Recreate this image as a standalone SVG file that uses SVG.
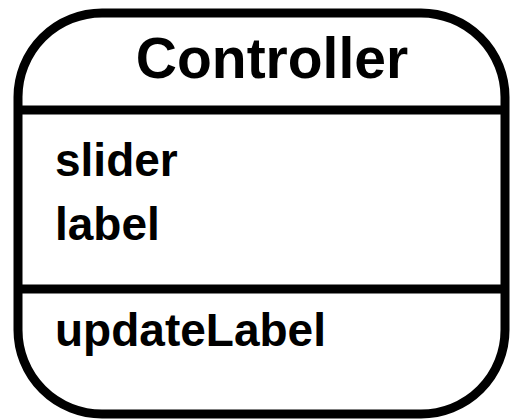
<svg xmlns="http://www.w3.org/2000/svg" width="513" height="419" viewBox="0 0 513 419">
  <style>
    .box { fill: #ffffff; stroke: #000000; stroke-width: 9; }
    .sep { stroke: #000000; stroke-width: 9; fill: none; }
    .title { font-family: "Liberation Sans", Arial, sans-serif; font-weight: bold; font-size: 57px; fill: #000000; }
    .member { font-family: "Liberation Sans", Arial, sans-serif; font-weight: bold; font-size: 46px; fill: #000000; }
  </style>
  <rect width="513" height="419" fill="#ffffff"/>
  <g id="Controller">
    <rect class="box" x="18" y="13" width="487" height="401" rx="84" ry="84"/>
    <line class="sep" x1="18" y1="110" x2="505" y2="110"/>
    <line class="sep" x1="18" y1="289" x2="505" y2="289"/>
    <text class="title" x="272" y="78" text-anchor="middle">Controller</text>
    <text class="member" x="55" y="176">slider</text>
    <text class="member" x="55" y="240">label</text>
    <text class="member" x="55" y="346">updateLabel</text>
  </g>
  <g id="connectors"/>
</svg>
